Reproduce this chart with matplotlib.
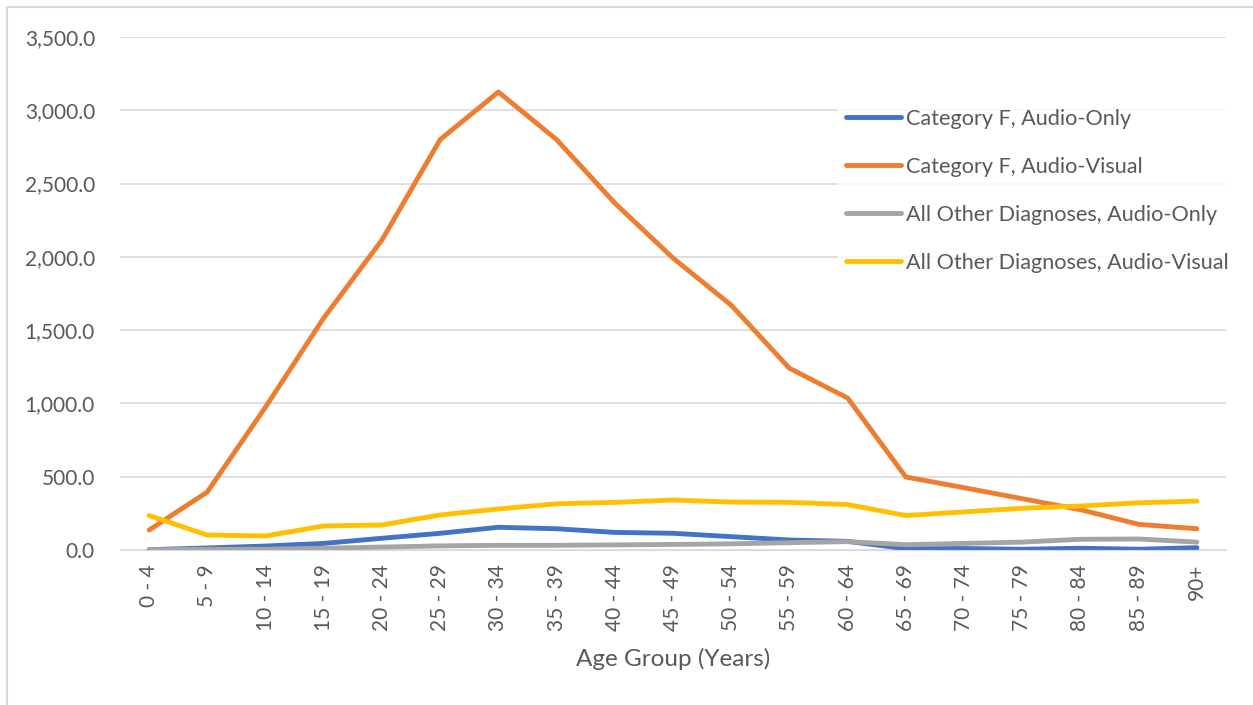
import matplotlib.pyplot as plt
from matplotlib.ticker import FuncFormatter
from matplotlib.patches import Rectangle

# age groups along the x axis
ageGroups = ['0 - 4', '5 - 9', '10 - 14', '15 - 19', '20 - 24', '25 - 29', '30 - 34',
             '35 - 39', '40 - 44', '45 - 49', '50 - 54', '55 - 59', '60 - 64',
             '65 - 69', '70 - 74', '75 - 79', '80 - 84', '85 - 89', '90+']

catFAudio = [2, 14, 27, 45, 80, 114, 155, 145, 120, 114, 91, 68, 59,
             9, 10, 5, 12, 5, 16]
catFVisual = [136, 396, 975, 1583, 2115, 2800, 3125, 2800, 2367, 1992, 1670, 1240, 1037,
              498, 425, 350, 275, 175, 145]
otherAudio = [2, 5, 5, 12, 20, 28, 32, 32, 35, 38, 42, 50, 57,
              36, 45, 54, 73, 75, 54]
otherVisual = [235, 102, 96, 164, 171, 239, 280, 315, 325, 341, 327, 325, 310,
               235, 260, 285, 300, 322, 334]

seriesNames = ['Category F, Audio-Only', 'Category F, Audio-Visual',
               'All Other Diagnoses, Audio-Only', 'All Other Diagnoses, Audio-Visual']
seriesColors = ['#4472C4', '#ED7D31', '#A5A5A5', '#FFC000']

plt.rcParams['font.family'] = ['Lato', 'DejaVu Sans']
textColor = '#595959'

fig = plt.figure(figsize=(12.53, 7.05), dpi=100)
ax = fig.add_axes([120 / 1253, 1 - 550 / 705, (1226 - 120) / 1253, (550 - 37) / 705])

x = list(range(len(ageGroups)))
for values, name, color in zip([catFAudio, catFVisual, otherAudio, otherVisual], seriesNames, seriesColors):
    ax.plot(x, values, color=color, linewidth=3.5, label=name, solid_capstyle='round', solid_joinstyle='round')

ax.set_xlim(-0.5, len(ageGroups) - 0.5)
ax.set_ylim(0, 3500)
ax.set_yticks(range(0, 3501, 500))
ax.yaxis.set_major_formatter(FuncFormatter(lambda v, p: f'{v:,.1f}'))
ax.set_xticks(x)
ax.set_xticklabels(ageGroups, rotation=90)
ax.grid(axis='y', color='#D9D9D9', linewidth=1.2)
ax.set_axisbelow(True)
for side in ['top', 'right', 'left']:
    ax.spines[side].set_visible(False)
ax.spines['bottom'].set_color('#D9D9D9')
ax.tick_params(axis='both', length=0, colors=textColor, labelsize=15)
ax.tick_params(axis='y', pad=18)
ax.tick_params(axis='x', pad=10)
ax.set_xlabel('Age Group (Years)', fontsize=17.5, color=textColor, labelpad=12)

leg = ax.legend(loc='upper left', bbox_to_anchor=(0.649, 0.877), frameon=True, fontsize=15.6,
                handlelength=2.5, handletextpad=0.25, labelspacing=1.29, borderaxespad=0)
leg.get_frame().set_facecolor('white')
leg.get_frame().set_edgecolor('white')
for t in leg.get_texts():
    t.set_color(textColor)

# outer border of the chart area (left and top edges only are visible)
fig.patches.append(Rectangle((7 / 1253, -0.1), 1.2, 1 - 7 / 705 + 0.1, transform=fig.transFigure,
                             fill=False, edgecolor='#D9D9D9', linewidth=1.5))

fig.savefig('out.png', dpi=100)
